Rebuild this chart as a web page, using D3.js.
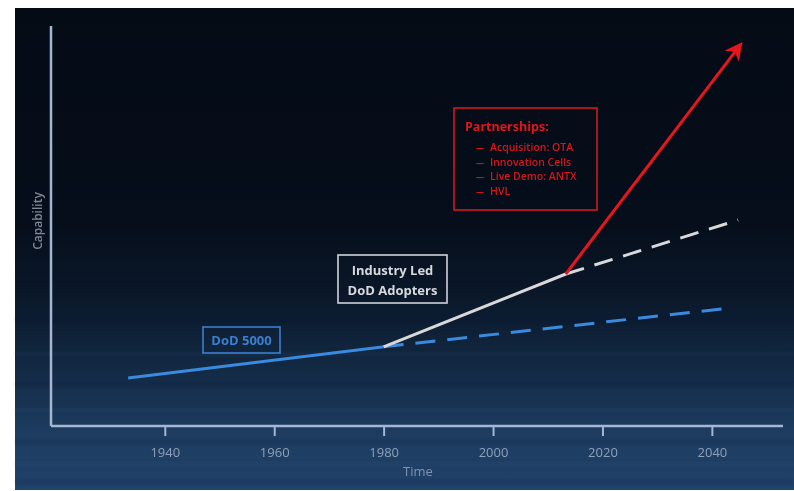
<!DOCTYPE html>
<html>
<head>
<meta charset="utf-8">
<script src="https://cdn.jsdelivr.net/npm/d3@7"></script>
<style>
	body { margin: 0; background: #fff; }
	svg { display: block; }
</style>
</head>
<body>
<svg width="794" height="491"></svg>
<script>
// tick labels along time axis
const tickYears = [1940, 1960, 1980, 2000, 2020, 2040];

// capability over time (arbitrary units 0-100)
const dodSolid = [{ year: 1933.3, cap: 12 }, { year: 1980, cap: 19.8 }];
const dodDashed = [{ year: 1980, cap: 19.8 }, { year: 2043.3, cap: 29.5 }];
const industrySolid = [{ year: 1980, cap: 19.8 }, { year: 2013.3, cap: 38 }];
const industryDashed = [{ year: 2013.3, cap: 38 }, { year: 2044.8, cap: 51.5 }];
const partnershipArrow = [{ year: 2013.3, cap: 38 }, { year: 2045.2, cap: 95.3 }];

const partnershipItems = ["Acquisition: OTA", "Innovation Cells", "Live Demo: ANTX", "HVL"];

const svg = d3.select("svg");
const width = 794;
const height = 491;
const margin = { top: 26, right: 11, bottom: 65, left: 51 };
const innerWidth = width - margin.left - margin.right;
const innerHeight = height - margin.top - margin.bottom;

const defs = svg.append("defs");
const bg = defs.append("linearGradient").attr("id", "bg").attr("x1", 0).attr("y1", 0).attr("x2", 0).attr("y2", 1);
[
	["0%", "#040b15"],
	["45%", "#060e1b"],
	["60%", "#0a182a"],
	["75%", "#132a44"],
	["88%", "#1d3c60"],
	["100%", "#21426a"]
].forEach(([o, c]) => bg.append("stop").attr("offset", o).attr("stop-color", c));

defs.append("filter").attr("id", "soft").append("feGaussianBlur").attr("stdDeviation", 1.5);

defs.append("marker")
	.attr("id", "arrow")
	.attr("viewBox", "0 0 10 10")
	.attr("refX", 8)
	.attr("refY", 5)
	.attr("markerWidth", 6)
	.attr("markerHeight", 6)
	.attr("orient", "auto")
	.append("path")
	.attr("d", "M0,0 L10,5 L0,10 L3,5 Z")
	.attr("fill", "#e5161c");

svg.append("rect").attr("x", 15).attr("y", 8).attr("width", width - 15).attr("height", 482).attr("fill", "url(#bg)");

// faint water streaks
const streaks = [318, 352, 382, 408, 440, 462, 480];
svg.append("g")
	.attr("filter", "url(#soft)")
	.selectAll("rect")
	.data(streaks)
	.enter()
	.append("rect")
	.attr("x", 15)
	.attr("y", (d) => d)
	.attr("width", width - 15)
	.attr("height", 4)
	.attr("fill", (d, i) => (i % 2 ? "#2f5582" : "#081628"))
	.attr("opacity", 0.12);

const xScale = d3.scaleLinear().domain([1919.2, 2053.0]).range([0, innerWidth]);
const yScale = d3.scaleLinear().domain([0, 100]).range([innerHeight, 0]);

const g = svg.append("g").attr("transform", `translate(${margin.left}, ${margin.top})`);

const axisColor = "#a4b6d2";
g.append("line").attr("x1", 0).attr("x2", 0).attr("y1", 0).attr("y2", innerHeight).attr("stroke", axisColor).attr("stroke-width", 2.5);

const xAxis = g.append("g")
	.attr("transform", `translate(0, ${innerHeight})`)
	.call(d3.axisBottom(xScale).tickValues(tickYears).tickFormat(d3.format("d")).tickSize(10).tickPadding(12));
xAxis.select(".domain").attr("d", `M0,0H${innerWidth}`).attr("stroke", axisColor).attr("stroke-width", 2.5);
xAxis.selectAll(".tick line").attr("stroke", axisColor).attr("stroke-width", 2);
xAxis.selectAll(".tick text").attr("fill", "#8ea0bb").style("font", "13px 'Open Sans', sans-serif");

g.append("text")
	.attr("x", 418 - margin.left)
	.attr("y", innerHeight + 50)
	.attr("text-anchor", "middle")
	.attr("fill", "#7f93b0")
	.style("font", "13px 'Open Sans', sans-serif")
	.text("Time");

g.append("text")
	.attr("transform", `translate(${42 - margin.left}, ${221 - margin.top}) rotate(-90)`)
	.attr("text-anchor", "middle")
	.attr("fill", "#7d8798")
	.style("font", "600 12px 'Open Sans', sans-serif")
	.text("Capability");

const line = d3.line().x((d) => xScale(d.year)).y((d) => yScale(d.cap));

const drawLine = (data, color, dash, marker) => {
	const p = g.append("path")
		.datum(data)
		.attr("d", line)
		.attr("fill", "none")
		.attr("stroke", color)
		.attr("stroke-width", 3);
	if (dash) p.attr("stroke-dasharray", dash);
	if (marker) p.attr("marker-end", marker);
};

drawLine(dodDashed, "#3a8ae0", "20,12");
drawLine(industryDashed, "#d9d9dc", "19,11");
drawLine(dodSolid, "#3a8ae0");
drawLine(industrySolid, "#d9d9dc");
drawLine(partnershipArrow, "#e5161c", null, "url(#arrow)");

// label boxes
const box = (x, y, w, h, color) =>
	svg.append("rect").attr("x", x).attr("y", y).attr("width", w).attr("height", h)
		.attr("fill", "none").attr("stroke", color).attr("stroke-width", 1.6);

box(203, 327, 77, 26, "#3a7fd0");
svg.append("text").attr("x", 241.5).attr("y", 345).attr("text-anchor", "middle")
	.attr("fill", "#3a7fd0").style("font", "bold 13px 'Open Sans', sans-serif").text("DoD 5000");

box(338, 255, 109, 48, "#cfd3da");
svg.append("text").attr("x", 392.5).attr("y", 275).attr("text-anchor", "middle")
	.attr("fill", "#d7d9de").style("font", "bold 13px 'Open Sans', sans-serif").text("Industry Led");
svg.append("text").attr("x", 392.5).attr("y", 295).attr("text-anchor", "middle")
	.attr("fill", "#d7d9de").style("font", "bold 13px 'Open Sans', sans-serif").text("DoD Adopters");

box(454, 108, 143, 102, "#d11a1f");
svg.append("text").attr("x", 465).attr("y", 131)
	.attr("fill", "#e0161c").style("font", "bold 12.5px 'Open Sans', sans-serif").text("Partnerships:");

const items = svg.append("g")
	.selectAll("g")
	.data(partnershipItems)
	.enter()
	.append("g")
	.attr("transform", (d, i) => `translate(0, ${151 + i * 14.5})`);
items.append("text")
	.attr("x", 476)
	.attr("fill", "#d4161b")
	.style("font", "bold 8px 'Open Sans', sans-serif")
	.text("—");
items.append("text")
	.attr("x", 490)
	.attr("fill", "#d4161b")
	.style("font", "600 10.5px 'Open Sans', sans-serif")
	.text((d) => d);
</script>
</body>
</html>
